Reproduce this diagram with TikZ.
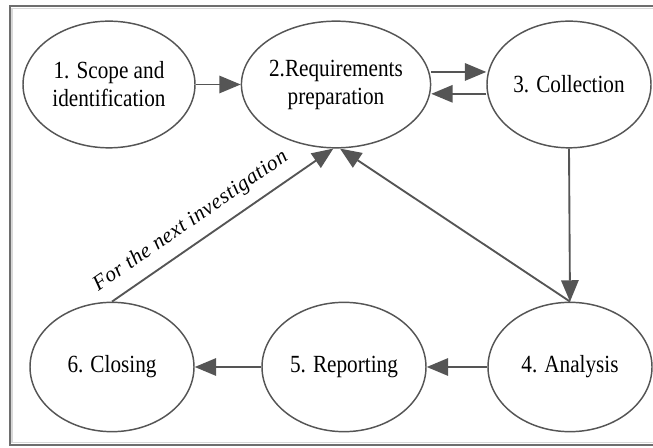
\documentclass[tikz,border=0pt]{standalone}
\usepackage{fontspec}
\setmainfont{Liberation Serif}[FakeStretch=0.86]
\newfontfamily\notefont{Liberation Serif}[LetterSpace=2.5]
\usetikzlibrary{shapes.geometric,arrows.meta}
\definecolor{linegray}{HTML}{555555}
\definecolor{framegray}{HTML}{6E6E6E}
\definecolor{shadegray}{HTML}{D8D8D8}
\tikzset{
  stage/.style={ellipse, draw=linegray, line width=1.1pt, inner sep=0pt,
    align=center, font=\fontsize{18.5}{21}\selectfont},
  flow/.style={draw=linegray, line width=1.4pt,
    -{Triangle[length=16pt,width=13pt]}, color=linegray},
}
\begin{document}
\begin{tikzpicture}[x=0.75pt,y=-0.75pt]
  \useasboundingbox (0,0) rectangle (653,448);
  % outer frame with a light inner edge
  \draw[shadegray, line width=1.2pt] (12,8.5) rectangle (660,442.5);
  \draw[framegray, line width=1.5pt] (10,6) rectangle (660,445);

  % stages
  \node[stage, minimum width=129pt, minimum height=95pt] (s1) at (109,84.5) {1. Scope and\\identification};
  \node[stage, minimum width=136.5pt, minimum height=95pt] (s2) at (336,84.5) {2.Requirements\\preparation};
  \node[stage, minimum width=123pt, minimum height=95pt] (s3) at (569,84.5) {3. Collection};
  \node[stage, minimum width=123pt, minimum height=97pt] (s4) at (570,367) {4. Analysis};
  \node[stage, minimum width=123pt, minimum height=97pt] (s5) at (344,367) {5. Reporting};
  \node[stage, minimum width=123pt, minimum height=97pt] (s6) at (112,367) {6. Closing};

  % connectors
  \draw[flow] (s1.east) -- (s2.west);
  \draw[flow] ([yshift=9.4pt]s2.east) -- ([yshift=9.4pt]s3.west);
  \draw[flow] ([yshift=-7pt]s3.west) -- ([yshift=-7pt]s2.east);
  \draw[flow] (s3.south) -- (s4.north);
  \draw[flow] (s4.north) -- ([xshift=3pt]s2.south);
  \draw[flow] (s4.west) -- (s5.east);
  \draw[flow] (s5.west) -- (s6.east);
  \draw[flow] (s6.north) -- node[sloped, pos=0.41, above=8pt, inner sep=0pt,
      font=\notefont\fontsize{16}{19}\selectfont\itshape, text=black]
      {For the next investigation} ([xshift=-2pt]s2.south);
\end{tikzpicture}
\end{document}
